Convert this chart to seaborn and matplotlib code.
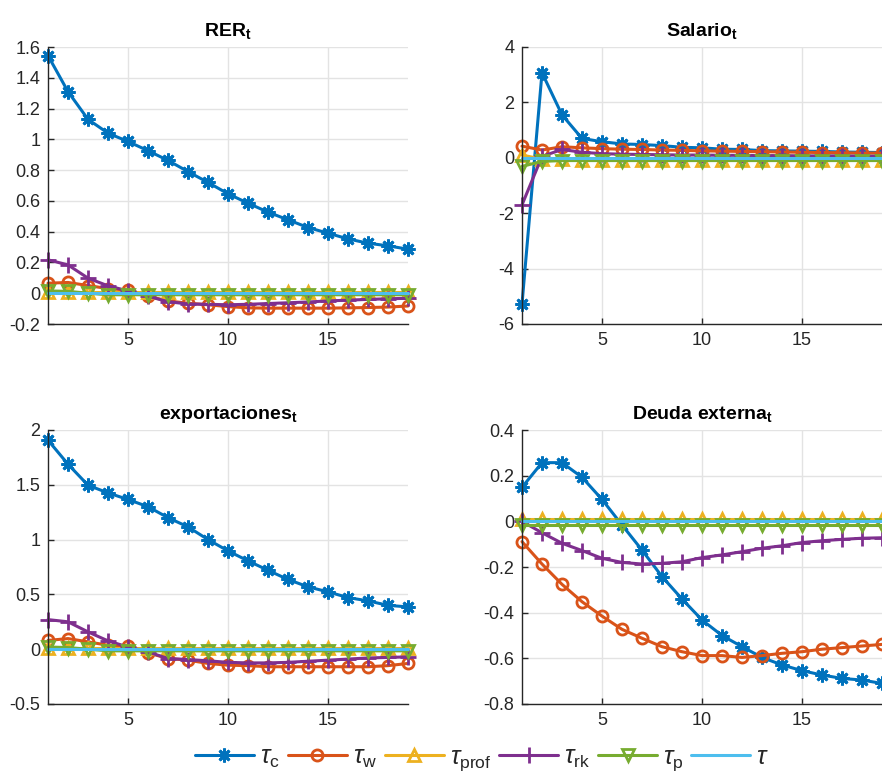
import numpy as np
import pandas as pd
import matplotlib
matplotlib.use("Agg")
import matplotlib.pyplot as plt
import seaborn as sns

# ---------------- data ----------------
periods = list(range(1, 20))
series_labels = [r"$\tau_{\rm c}$", r"$\tau_{\rm w}$", r"$\tau_{\rm prof}$",
                 r"$\tau_{\rm rk}$", r"$\tau_{\rm p}$", r"$\tau$"]

rer_tc = [1.544, 1.31, 1.13, 1.04, 0.986, 0.926, 0.863, 0.79, 0.72, 0.646, 0.585,
          0.527, 0.477, 0.427, 0.39, 0.353, 0.325, 0.308, 0.286]
rer_tw = [0.065, 0.07, 0.05, 0.03, 0.02, -0.02, -0.05, -0.065, -0.075, -0.087, -0.095,
          -0.097, -0.097, -0.097, -0.097, -0.095, -0.093, -0.09, -0.083]
rer_tprof = [0.01] * 19
rer_trk = [0.217, 0.184, 0.098, 0.048, 0.015, -0.02, -0.055, -0.07, -0.072, -0.075, -0.072,
           -0.067, -0.062, -0.057, -0.05, -0.045, -0.04, -0.036, -0.033]
rer_tp = [0.015, 0.012, 0.0, -0.01, -0.01, -0.01, -0.01, -0.01, -0.01, -0.01, -0.01,
          -0.01, -0.01, -0.01, -0.01, -0.01, -0.01, -0.01, -0.01]
rer_t = [0.0] * 19

sal_tc = [-5.28, 3.07, 1.55, 0.70, 0.58, 0.50, 0.48, 0.44, 0.38, 0.36, 0.31, 0.30,
          0.26, 0.25, 0.24, 0.23, 0.21, 0.20, 0.19]
sal_tw = [0.42, 0.28, 0.40, 0.36, 0.33, 0.31, 0.30, 0.28, 0.27, 0.25, 0.24, 0.23,
          0.22, 0.21, 0.20, 0.19, 0.18, 0.17, 0.17]
sal_tprof = [0.10, -0.05, -0.06, -0.07, -0.07, -0.07, -0.07, -0.07, -0.07, -0.07, -0.07,
             -0.07, -0.07, -0.07, -0.07, -0.07, -0.07, -0.07, -0.07]
sal_trk = [-1.70, 0.05, 0.30, 0.20, 0.15, 0.13, 0.12, 0.11, 0.10, 0.10, 0.09, 0.09,
           0.08, 0.08, 0.07, 0.07, 0.07, 0.06, 0.06]
sal_tp = [-0.31, -0.13, -0.10, -0.10, -0.10, -0.10, -0.10, -0.10, -0.10, -0.10, -0.10,
          -0.10, -0.10, -0.10, -0.10, -0.10, -0.10, -0.10, -0.10]
sal_t = [0.0] * 19

exp_tc = [1.907, 1.688, 1.496, 1.426, 1.366, 1.30, 1.20, 1.116, 1.00, 0.897, 0.806,
          0.72, 0.636, 0.569, 0.523, 0.471, 0.441, 0.40, 0.386]
exp_tw = [0.08, 0.097, 0.067, 0.036, 0.03, -0.033, -0.085, -0.1, -0.13, -0.146, -0.15,
          -0.16, -0.16, -0.16, -0.16, -0.16, -0.16, -0.15, -0.13]
exp_tprof = [0.01] * 19
exp_trk = [0.27, 0.25, 0.158, 0.076, 0.02, -0.025, -0.085, -0.094, -0.106, -0.12, -0.125,
           -0.125, -0.12, -0.11, -0.1, -0.09, -0.08, -0.075, -0.07]
exp_tp = [0.02, 0.015, 0.0, -0.015, -0.015, -0.015, -0.015, -0.015, -0.015, -0.015, -0.015,
          -0.015, -0.015, -0.015, -0.015, -0.015, -0.015, -0.015, -0.015]
exp_t = [0.0] * 19

deu_tc = [0.149, 0.257, 0.257, 0.193, 0.096, -0.016, -0.126, -0.242, -0.34, -0.432, -0.50,
          -0.549, -0.596, -0.629, -0.654, -0.673, -0.688, -0.695, -0.71]
deu_tw = [-0.089, -0.187, -0.276, -0.352, -0.415, -0.473, -0.512, -0.549, -0.571, -0.588,
          -0.588, -0.596, -0.588, -0.578, -0.571, -0.56, -0.553, -0.546, -0.539]
deu_tprof = [0.012] * 19
deu_trk = [0.0, -0.05, -0.096, -0.128, -0.162, -0.18, -0.187, -0.184, -0.177, -0.159, -0.147,
           -0.133, -0.118, -0.107, -0.093, -0.085, -0.079, -0.074, -0.072]
deu_tp = [-0.015] * 19
deu_t = [0.0] * 19

panels = [
    ("RER", [rer_tc, rer_tw, rer_tprof, rer_trk, rer_tp, rer_t], [-0.2, 1.6], np.arange(-0.2, 1.61, 0.2)),
    ("Salario", [sal_tc, sal_tw, sal_tprof, sal_trk, sal_tp, sal_t], [-6, 4], np.arange(-6, 4.1, 2)),
    ("exportaciones", [exp_tc, exp_tw, exp_tprof, exp_trk, exp_tp, exp_t], [-0.5, 2], np.arange(-0.5, 2.01, 0.5)),
    ("Deuda externa", [deu_tc, deu_tw, deu_tprof, deu_trk, deu_tp, deu_t], [-0.8, 0.4], np.arange(-0.8, 0.41, 0.2)),
]

# ---------------- style ----------------
sns.set_theme(style="ticks")
plt.rcParams["font.family"] = ["Liberation Sans", "DejaVu Sans"]
plt.rcParams["mathtext.fontset"] = "custom"
plt.rcParams["mathtext.rm"] = "Liberation Sans"
plt.rcParams["mathtext.it"] = "Liberation Sans:italic"
plt.rcParams["mathtext.bf"] = "Liberation Sans:bold"
plt.rcParams["axes.unicode_minus"] = False

colors = ["#0072BD", "#D95319", "#EDB120", "#7E2F8E", "#77AC30", "#4DBEEE"]
markers = [(8, 2, 0), "o", "^", "+", "v", None]
msizes = [10, 8, 9, 11, 9, 0]

fig = plt.figure(figsize=(8.82, 7.77), dpi=100)
W, H = 882, 777
boxes = [
    (48, 47, 360, 277),
    (522, 47, 360, 277),
    (48, 430, 360, 274),
    (522, 430, 360, 274),
]

handles = None
for (title, data, ylim, yt), (x0, y0, w, h) in zip(panels, boxes):
    ax = fig.add_axes([x0 / W, 1 - (y0 + h) / H, w / W, h / H])
    for vals, lab, c, m, ms in zip(data, series_labels, colors, markers, msizes):
        df = pd.DataFrame({"t": periods, "v": vals})
        kw = dict(color=c, linewidth=2.2, label=lab, clip_on=False)
        if m is not None:
            kw.update(marker=m, markersize=ms, markeredgewidth=2.0,
                      markerfacecolor="none", markeredgecolor=c)
        sns.lineplot(data=df, x="t", y="v", ax=ax, **kw)
    ax.set_xlim(1, 19)
    ax.set_ylim(*ylim)
    ax.set_xticks([5, 10, 15])
    ax.set_yticks(yt)
    ax.set_yticklabels([f"{v:g}" if abs(v) > 1e-9 else "0" for v in yt])
    ax.set_xlabel("")
    ax.set_ylabel("")
    ax.grid(True, color="#E3E3E3", linewidth=1.0)
    ax.set_axisbelow(True)
    for s in ["top", "right"]:
        ax.spines[s].set_visible(False)
    for s in ["left", "bottom"]:
        ax.spines[s].set_color("#262626")
        ax.spines[s].set_linewidth(1.0)
    ax.tick_params(direction="in", length=4, width=1, colors="#262626",
                   labelsize=13, pad=5.5)
    ax.set_title(title + r"$_\mathbf{t}$", fontsize=14, fontweight="bold", pad=8,
                 color="black")
    leg = ax.get_legend()
    if leg is not None:
        leg.remove()
    if handles is None:
        handles, labels = ax.get_legend_handles_labels()

fig.legend(handles, series_labels, loc="center", bbox_to_anchor=(0.5465, 1 - 759 / H),
           ncol=6, frameon=False, fontsize=18, handlelength=2.36, columnspacing=0.32,
           handletextpad=0.24)

fig.savefig("out.png", dpi=100)
